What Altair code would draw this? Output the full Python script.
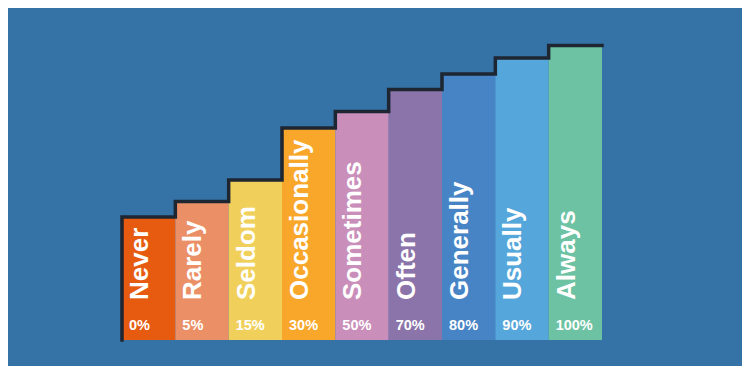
import altair as alt
import pandas as pd

# ---- data ----
categories = ["Never", "Rarely", "Seldom", "Occasionally", "Sometimes",
              "Often", "Generally", "Usually", "Always"]
percent_labels = ["0%", "5%", "15%", "30%", "50%", "70%", "80%", "90%", "100%"]
step_heights = [123, 138.5, 160, 212, 228.5, 250.5, 266, 282, 294.5]
bar_colors = ["#e65b10", "#eb8f66", "#f0d05a", "#f9a72b", "#c98fba",
              "#8b74a9", "#4784c6", "#55a6da", "#6cc2a2"]

BG = "#3573a7"
LINE = "#1e2632"
FONT = "Liberation Sans"

n = len(categories)
bars = pd.DataFrame({
    "cat": categories,
    "pct": percent_labels,
    "h": step_heights,
    "x0": list(range(n)),
    "x1": [i + 1 for i in range(n)],
})

# staircase outline: up the left edge of each step, across its top
line_x = [0] + list(range(n)) + [n]
line_y = [0] + step_heights + [step_heights[-1]]
outline = pd.DataFrame({"lx": line_x, "ly": line_y, "ord": list(range(len(line_x)))})

xs = alt.Scale(domain=[0, n], nice=False, zero=False)
ys = alt.Scale(domain=[0, 332], nice=False, zero=True)

base = alt.Chart(bars)

rects = base.mark_rect().encode(
    x=alt.X("x0:Q", scale=xs, axis=None),
    x2="x1:Q",
    y=alt.Y("h:Q", scale=ys, axis=None),
    y2=alt.datum(0),
    color=alt.Color("cat:N", scale=alt.Scale(domain=categories, range=bar_colors), legend=None),
)

stair = alt.Chart(outline).mark_line(
    interpolate="step-after", color=LINE, strokeWidth=3.5, strokeCap="square"
).encode(
    x=alt.X("lx:Q", scale=xs, axis=None),
    y=alt.Y("ly:Q", scale=ys, axis=None),
    order="ord:Q",
)

names = base.mark_text(
    angle=270, align="left", baseline="top", dy=5,
    font=FONT, fontSize=26, fontWeight="bold", color="white",
).encode(
    x=alt.X("x0:Q", scale=xs, axis=None),
    y=alt.value(292),
    text="cat:N",
)

pcts = base.mark_text(
    align="left", baseline="alphabetic", dx=7,
    font=FONT, fontSize=14.5, fontWeight="bold", color="white",
).encode(
    x=alt.X("x0:Q", scale=xs, axis=None),
    y=alt.value(322),
    text="pct:N",
)

chart = alt.layer(rects, stair, names, pcts).properties(
    width=480, height=332,
    autosize=alt.AutoSizeParams(type="none"),
    padding={"left": 114, "top": 0, "right": 140, "bottom": 26},
    background=BG,
).configure_view(stroke=None)

chart.save("out.html", embed_options={"renderer": "svg", "actions": False})
